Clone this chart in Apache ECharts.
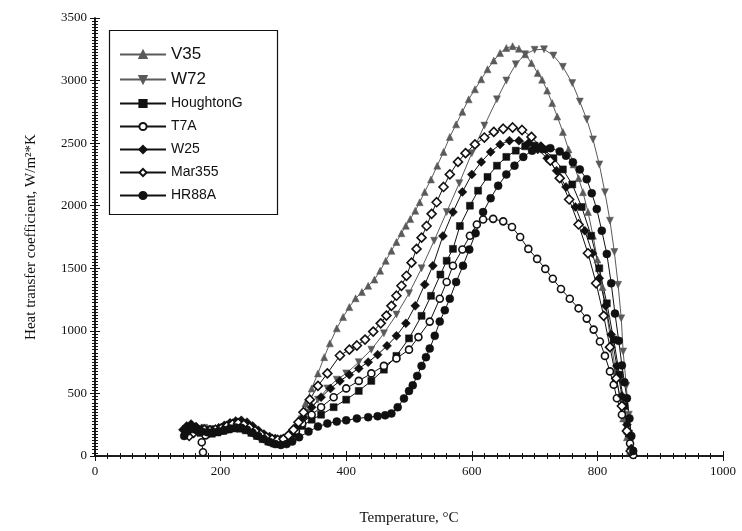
<!DOCTYPE html>
<html>
<head>
<meta charset="utf-8">
<script src="https://cdn.jsdelivr.net/npm/echarts@6/dist/echarts.min.js"></script>
<style>
html,body{margin:0;padding:0;background:#fff;}
#chart{width:742px;height:531px;}
</style>
</head>
<body>
<div id="chart"></div>
<script>
// Quench heat transfer coefficient vs. surface temperature, pairs of [T (°C), h (W/m²K)]
const seriesNames = ['V35', 'W72', 'HoughtonG', 'T7A', 'W25', 'Mar355', 'HR88A'];

const v35 = [[148,200],[153,230],[160,215],[168,195],[176,185],[185,190],[194,200],[203,215],[212,228],[221,238],[230,240],[239,228],[248,205],[257,180],[266,155],[275,135],[284,122],[293,118],[302,130],[310,165],[318,220],[325,300],[335,420],[345,540],[355,660],[365,790],[374,900],[385,1020],[395,1110],[405,1190],[415,1260],[425,1310],[435,1360],[445,1410],[454,1480],[463,1560],[472,1640],[480,1710],[488,1780],[495,1840],[502,1893],[510,1960],[517,2028],[525,2110],[535,2210],[545,2320],[555,2430],[565,2550],[575,2650],[585,2750],[595,2850],[605,2930],[615,3010],[625,3090],[635,3160],[645,3220],[655,3260],[665,3275],[675,3255],[685,3210],[695,3140],[705,3060],[712,3007],[720,2920],[728,2820],[736,2713],[745,2590],[754,2450],[762,2330],[770,2220],[777,2108],[785,1950],[793,1760],[800,1570],[808,1350],[815,1130],[822,900],[829,680],[835,480],[841,300],[847,150],[852,40]];

const w72 = [[150,170],[158,195],[166,215],[174,225],[183,215],[192,205],[201,215],[210,235],[219,255],[228,265],[237,255],[246,225],[255,195],[264,165],[273,140],[282,125],[291,118],[300,125],[310,160],[320,210],[330,280],[340,350],[355,450],[370,540],[385,610],[400,660],[420,750],[440,850],[460,980],[480,1130],[500,1300],[520,1500],[540,1720],[560,1950],[580,2180],[600,2420],[620,2640],[640,2850],[655,3000],[670,3130],[685,3210],[700,3246],[715,3250],[730,3200],[745,3110],[760,2980],[772,2832],[783,2690],[793,2530],[803,2330],[812,2108],[820,1880],[827,1630],[833,1368],[838,1100],[841,835],[846,560],[850,330],[854,120],[856,30]];

const houghtonG = [[145,180],[152,205],[160,200],[168,185],[177,175],[186,178],[195,188],[204,200],[213,212],[222,220],[231,218],[240,205],[249,185],[258,160],[267,135],[276,115],[285,100],[294,95],[303,105],[312,135],[320,180],[330,240],[345,290],[360,330],[380,390],[400,450],[420,520],[440,600],[460,690],[480,800],[500,940],[520,1120],[535,1280],[550,1450],[560,1560],[570,1655],[581,1838],[597,2000],[610,2120],[625,2230],[640,2320],[655,2390],[670,2440],[685,2475],[700,2480],[715,2450],[730,2380],[745,2290],[760,2170],[775,1990],[790,1760],[803,1500],[815,1220],[826,930],[835,650],[843,400],[850,180],[855,40]];

const t7a = [[172,30],[170,110],[176,165],[184,190],[193,200],[202,205],[211,215],[220,228],[229,235],[238,225],[247,200],[256,175],[265,150],[274,130],[283,115],[292,110],[300,118],[310,150],[320,200],[330,260],[345,330],[360,390],[380,470],[400,540],[420,600],[440,660],[460,720],[480,780],[500,850],[515,950],[533,1074],[549,1257],[560,1390],[570,1520],[585,1650],[597,1760],[608,1850],[618,1890],[634,1895],[650,1875],[664,1830],[677,1750],[690,1655],[704,1575],[717,1495],[729,1416],[742,1335],[756,1257],[770,1180],[783,1098],[794,1010],[804,915],[812,800],[820,676],[826,570],[831,461],[839,330],[847,199],[852,100],[857,8]];

const w25 = [[140,210],[146,240],[153,255],[161,235],[170,215],[179,205],[188,210],[197,225],[206,245],[215,265],[224,280],[233,285],[242,270],[251,240],[260,205],[269,175],[278,155],[287,140],[296,135],[305,145],[313,180],[322,240],[332,310],[345,390],[360,470],[375,540],[390,600],[405,650],[420,700],[435,750],[450,810],[465,880],[480,960],[495,1060],[510,1200],[525,1370],[538,1520],[554,1758],[570,1949],[585,2110],[600,2250],[615,2350],[630,2430],[645,2490],[660,2520],[675,2520],[690,2500],[705,2450],[720,2380],[735,2280],[750,2150],[765,1990],[780,1800],[792,1620],[803,1420],[813,1200],[822,970],[831,720],[839,480],[847,250],[854,60]];

const mar355 = [[150,160],[157,185],[165,200],[174,210],[183,205],[192,210],[201,220],[210,238],[219,255],[228,262],[237,250],[246,228],[255,200],[264,172],[273,150],[282,135],[291,128],[300,135],[308,165],[316,210],[324,270],[332,350],[342,450],[355,560],[370,660],[390,803],[405,850],[417,883],[430,930],[443,994],[455,1060],[464,1122],[472,1200],[480,1281],[488,1360],[496,1440],[504,1545],[512,1655],[520,1745],[528,1838],[536,1935],[544,2028],[555,2150],[565,2250],[578,2350],[590,2420],[605,2490],[620,2545],[635,2590],[650,2615],[665,2625],[680,2605],[695,2550],[710,2470],[725,2360],[740,2220],[755,2050],[770,1850],[785,1620],[798,1380],[810,1120],[820,870],[830,620],[839,400],[847,200],[853,40]];

const hr88a = [[142,160],[147,195],[154,215],[162,205],[170,195],[179,190],[188,192],[197,198],[206,208],[215,220],[224,228],[233,225],[242,210],[251,185],[260,160],[269,135],[278,112],[287,95],[296,88],[305,95],[314,115],[325,150],[340,195],[355,235],[370,260],[385,275],[400,285],[417,300],[435,310],[450,318],[462,325],[472,340],[482,390],[492,460],[500,520],[506,565],[513,640],[520,720],[527,790],[533,859],[541,960],[549,1074],[557,1165],[565,1257],[575,1390],[586,1520],[596,1650],[606,1780],[618,1949],[630,2060],[642,2160],[655,2250],[668,2320],[682,2390],[696,2440],[710,2465],[725,2460],[740,2434],[750,2400],[761,2347],[772,2290],[783,2212],[791,2100],[799,1973],[807,1800],[815,1615],[822,1380],[828,1138],[834,920],[839,724],[843,590],[847,461],[851,300],[854,160],[857,40]];

const xTicks = {min: 0, max: 1000, step: 200};
const yTicks = {min: 0, max: 3500, step: 500};

const serif = 'Liberation Serif, Times New Roman, serif';
const sans = 'Liberation Sans, Arial, sans-serif';
const ink = '#111';
const grey = '#5a5a5a';

function mkSeries(name, data, symbol, size, color, open, rotate) {
  return {
    name: name,
    type: 'line',
    data: data,
    symbol: symbol,
    symbolSize: size,
    symbolRotate: rotate || 0,
    showSymbol: true,
    animation: false,
    lineStyle: {color: color, width: 1},
    itemStyle: open
      ? {color: '#fff', borderColor: color, borderWidth: 1.6}
      : {color: color, borderColor: color, borderWidth: 0.5},
    emphasis: {disabled: true}
  };
}

const seriesList = [
  mkSeries(seriesNames[0], v35, 'triangle', 7, grey, false, 0),
  mkSeries(seriesNames[1], w72, 'triangle', 7, grey, false, 180),
  mkSeries(seriesNames[2], houghtonG, 'rect', 7, ink, false, 0),
  mkSeries(seriesNames[3], t7a, 'circle', 7, ink, true, 0),
  mkSeries(seriesNames[4], w25, 'diamond', 9, ink, false, 0),
  mkSeries(seriesNames[5], mar355, 'diamond', 9, ink, true, 0),
  mkSeries(seriesNames[6], hr88a, 'circle', 8, ink, false, 0)
];

function frameAxis(base, extra) {
  return Object.assign({
    type: 'value',
    axisLine: {show: true, lineStyle: {color: ink, width: 1.5}},
    axisTick: {show: true, inside: true, length: 5, lineStyle: {color: ink, width: 1}},
    splitLine: {show: false},
    minorSplitLine: {show: false}
  }, base, extra);
}

const plain = v => String(v);
const xBase = {min: xTicks.min, max: xTicks.max, interval: xTicks.step, minorTick: {show: true, splitNumber: 10, length: 3, lineStyle: {color: ink}}};
const yBase = {min: yTicks.min, max: yTicks.max, interval: yTicks.step, minorTick: {show: true, splitNumber: 20, length: 3, lineStyle: {color: ink}}};

const chart = echarts.init(document.getElementById('chart'), null, {renderer: 'canvas'});
chart.setOption({
  backgroundColor: '#fff',
  animation: false,
  grid: {left: 95, right: 19, top: 18, bottom: 73, containLabel: false},
  xAxis: [
    frameAxis(xBase, {
      position: 'bottom',
      name: 'Temperature, °C',
      nameLocation: 'middle',
      nameGap: 55,
      nameTextStyle: {fontFamily: serif, fontSize: 15, color: ink},
      axisLabel: {fontFamily: serif, fontSize: 13, color: ink, margin: 9, formatter: plain}
    }),
    frameAxis(xBase, {position: 'top', axisLabel: {show: false}})
  ],
  yAxis: [
    frameAxis(yBase, {
      position: 'left',
      name: 'Heat transfer coefficient, W/m²*K',
      nameLocation: 'middle',
      nameGap: 56,
      nameTextStyle: {fontFamily: serif, fontSize: 15, color: ink},
      axisLabel: {fontFamily: serif, fontSize: 13, color: ink, margin: 8, formatter: plain}
    }),
    frameAxis(yBase, {position: 'right', axisLabel: {show: false}})
  ],
  legend: {
    orient: 'vertical',
    left: 114,
    top: 40,
    itemWidth: 46,
    itemHeight: 9,
    itemGap: 6,
    selectedMode: false,
    textStyle: {fontFamily: sans, fontSize: 14, color: ink, lineHeight: 17},
    data: [
      {name: 'V35', textStyle: {fontSize: 17, lineHeight: 19}},
      {name: 'W72', textStyle: {fontSize: 17, lineHeight: 19}},
      'HoughtonG', 'T7A', 'W25', 'Mar355', 'HR88A'
    ]
  },
  graphic: [{
    type: 'rect',
    left: 107, top: 28,
    shape: {width: 168, height: 184},
    style: {fill: 'none', stroke: ink, lineWidth: 1.2},
    silent: true,
    z: 10
  }],
  series: seriesList
});
</script>
</body>
</html>
